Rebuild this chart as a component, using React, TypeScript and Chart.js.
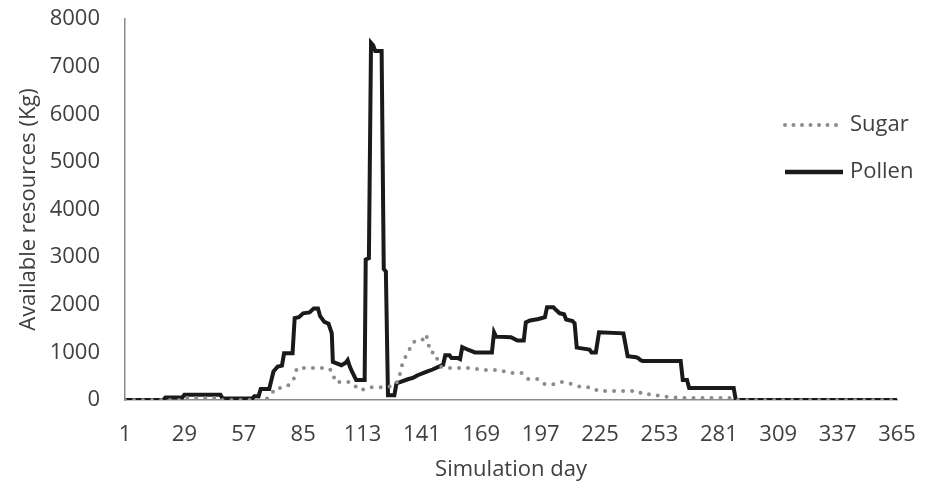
import React, { useEffect, useRef } from "react";
import { Chart, registerables } from "chart.js";

Chart.register(...registerables);

const xTickDays = [1, 29, 57, 85, 113, 141, 169, 197, 225, 253, 281, 309, 337, 365];
const yTickValues = [0, 1000, 2000, 3000, 4000, 5000, 6000, 7000, 8000];

const pollenDays = [
  1, 19, 20, 28, 29, 46, 47, 61, 62, 64, 65, 69, 71, 73, 75, 76, 80, 81, 83, 85, 88, 90, 92, 93, 95, 97,
  98.5, 99, 103, 105, 106, 107, 108, 110, 114, 114.5, 116, 117, 118, 119, 122, 123, 124, 125, 128, 129,
  131, 134, 137, 139, 143, 146, 149, 151, 152, 154, 155, 158, 159, 160, 163, 166, 174, 175, 176, 183,
  186, 189, 190, 192, 196, 199, 200, 203, 204, 206, 208, 209, 212, 213, 214, 220, 221, 223, 224.5, 236,
  238, 242, 243, 244, 245, 263, 264, 266, 267, 288, 289, 365,
];
const pollenKg = [
  0, 0, 50, 50, 110, 110, 30, 30, 80, 80, 230, 230, 600, 700, 720, 980, 980, 1720, 1740, 1820, 1840, 1920,
  1920, 1760, 1640, 1600, 1400, 800, 730, 780, 840, 700, 600, 420, 420, 2950, 2980, 7500, 7450, 7330, 7330,
  2750, 2700, 100, 100, 350, 380, 430, 470, 520, 590, 640, 700, 740, 940, 940, 880, 880, 860, 1110, 1050,
  1000, 1000, 1420, 1330, 1320, 1250, 1250, 1630, 1670, 1700, 1740, 1950, 1950, 1900, 1820, 1800, 1690,
  1660, 1610, 1100, 1060, 1000, 1000, 1420, 1400, 920, 900, 880, 840, 820, 820, 420, 420, 250, 250, 0, 0,
];

const sugarDays = [
  1, 28, 29, 46, 47, 67, 69, 72, 75, 79, 81, 82, 97, 99, 100, 107, 109, 112, 116, 124, 128, 130, 132, 135,
  137, 141, 143, 144, 145, 147, 148, 150, 152, 164, 170, 177, 183, 188, 191, 196, 199, 204, 207, 212, 216,
  221, 224, 243, 245, 250, 254, 258, 263, 287, 289, 365,
];
const sugarKg = [
  0, 0, 40, 40, 0, 0, 60, 250, 250, 330, 480, 670, 670, 590, 380, 380, 310, 200, 270, 270, 300, 420, 800,
  1050, 1220, 1250, 1380, 1190, 1000, 1000, 880, 700, 670, 670, 630, 630, 565, 565, 440, 440, 330, 330, 380,
  330, 270, 270, 190, 190, 120, 120, 70, 70, 40, 40, 0, 0,
];

const seriesNames = ["Sugar", "Pollen"];

const TEXT = "#404040";
const FONT = "'Open Sans', 'Noto Sans', sans-serif";

const legendPlugin = {
  id: "insideLegend",
  afterDraw(chart: any) {
    const ctx = chart.ctx;
    ctx.save();
    const x0 = 785;
    const x1 = 843;
    const rows = [
      { y: 125, name: seriesNames[0], color: "#8c8c8c", dash: [0, 8.5] },
      { y: 172, name: seriesNames[1], color: "#1a1a1a", dash: [] as number[] },
    ];
    rows.forEach((r) => {
      ctx.beginPath();
      ctx.setLineDash(r.dash);
      ctx.lineCap = r.dash.length ? "round" : "butt";
      ctx.strokeStyle = r.color;
      ctx.lineWidth = r.dash.length ? 4 : 4.5;
      ctx.moveTo(x0, r.y);
      ctx.lineTo(x1, r.y);
      ctx.stroke();
      ctx.setLineDash([]);
      ctx.fillStyle = TEXT;
      ctx.font = `22px ${FONT}`;
      ctx.textAlign = "left";
      ctx.textBaseline = "middle";
      ctx.fillText(r.name, x1 + 7, r.y);
    });
    ctx.restore();
  },
};

export default function App() {
  const ref = useRef<HTMLCanvasElement | null>(null);

  useEffect(() => {
    if (!ref.current) return;
    const chart = new Chart(ref.current, {
      type: "line",
      data: {
        datasets: [
          {
            label: seriesNames[0],
            data: sugarDays.map((d, i) => ({ x: d, y: sugarKg[i] })),
            borderColor: "#8c8c8c",
            borderWidth: 4,
            borderDash: [0, 9],
            borderCapStyle: "round",
            pointRadius: 0,
            tension: 0,
            fill: false,
          },
          {
            label: seriesNames[1],
            data: pollenDays.map((d, i) => ({ x: d, y: pollenKg[i] })),
            borderColor: "#1a1a1a",
            borderWidth: 4,
            borderJoinStyle: "miter",
            pointRadius: 0,
            tension: 0,
            fill: false,
          },
        ],
      },
      options: {
        animation: false,
        responsive: false,
        devicePixelRatio: 1,
        layout: { padding: { top: 19, right: 33, left: 0, bottom: 0 } },
        plugins: {
          legend: { display: false },
          tooltip: { enabled: false },
        },
        scales: {
          x: {
            type: "linear",
            min: 1,
            max: 365,
            afterBuildTicks: (scale: any) => {
              scale.ticks = xTickDays.map((v) => ({ value: v }));
            },
            afterFit: (scale: any) => {
              scale.height = 88;
              scale.paddingLeft = 10;
              scale.paddingRight = 20;
            },
            grid: { display: false, drawTicks: false },
            border: { display: true, color: "#8a8a8a", width: 1.5 },
            ticks: {
              autoSkip: false,
              maxRotation: 0,
              padding: 22,
              color: TEXT,
              font: { family: FONT, size: 22 },
              callback: (v: any) => String(v),
            },
            title: {
              display: true,
              text: "Simulation day",
              color: TEXT,
              font: { family: FONT, size: 22 },
              padding: { top: 0, bottom: 5 },
            },
          },
          y: {
            type: "linear",
            min: 0,
            max: 8000,
            afterBuildTicks: (scale: any) => {
              scale.ticks = yTickValues.map((v) => ({ value: v }));
            },
            afterFit: (scale: any) => {
              scale.width = 125;
              scale.paddingTop = 13;
              scale.paddingBottom = 13;
            },
            grid: { display: false, drawTicks: false },
            border: { display: true, color: "#8a8a8a", width: 1.5 },
            ticks: {
              padding: 25,
              color: TEXT,
              font: { family: FONT, size: 22 },
              callback: (v: any) => String(v),
            },
            title: {
              display: true,
              text: "Available resources (Kg)",
              align: "center",
              color: TEXT,
              font: { family: FONT, size: 22 },
              padding: { top: 16, bottom: 0 },
            },
          },
        },
      },
      plugins: [legendPlugin],
    } as any);
    return () => chart.destroy();
  }, []);

  return (
    <div style={{ position: "fixed", left: 0, top: 0, width: 930, height: 488, background: "#fff" }}>
      <canvas ref={ref} width={930} height={488} style={{ width: 930, height: 488, display: "block" }} />
    </div>
  );
}
